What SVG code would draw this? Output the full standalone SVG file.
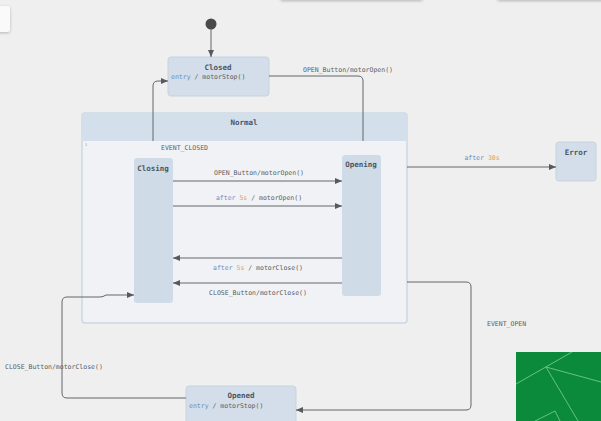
<svg xmlns="http://www.w3.org/2000/svg" width="601" height="421" viewBox="0 0 601 421">
<defs>
<marker id="ah" markerWidth="7" markerHeight="6" refX="7" refY="3" orient="auto" markerUnits="userSpaceOnUse">
<path d="M0,0 L7,3 L0,6 Z" fill="#555a60"/>
</marker>
<filter id="sh" x="-20%" y="-50%" width="140%" height="200%">
<feDropShadow dx="0" dy="1" stdDeviation="1.5" flood-color="#000" flood-opacity="0.25"/>
</filter>
</defs>
<style>
.state{fill:#d3deea;stroke:#c6d3e0;stroke-width:1}
.inner{fill:#cfdbe6;stroke:none}
.title{font-family:"DejaVu Sans Mono","Liberation Mono",monospace;font-size:7.5px;font-weight:bold;fill:#4a5562;text-anchor:middle}
.lbl{font-family:"DejaVu Sans Mono","Liberation Mono",monospace;font-size:6.5px;fill:#585d64}
.kw{fill:#6a8cc0}
.num{fill:#e0a060}
.edge{fill:none;stroke:#62676d;stroke-width:1}
</style>
<rect width="601" height="421" fill="#efefef"/>
<g id="ui">
<rect x="-6" y="6" width="16" height="26" rx="3" fill="#fafafa" filter="url(#sh)"/>
<rect x="280" y="-10" width="143" height="10" rx="3" fill="#f3f3f3" filter="url(#sh)"/>
<rect x="497" y="-10" width="110" height="10" rx="3" fill="#f3f3f3" filter="url(#sh)"/>
<rect x="516" y="352" width="90" height="75" fill="#0b8a3b"/>
<g stroke="#7fd08f" stroke-width="0.8" fill="none">
<path d="M516,384 L572,352"/>
<path d="M546,367 L601,382"/>
<path d="M546,367 L578,421"/>
<path d="M535,421 L555,411 L560,421"/>
</g>
</g>
<g id="Normal">
<rect x="82" y="113" width="325" height="210" rx="3" fill="#f1f2f5" stroke="#cdd7e2" stroke-width="1.5"/>
<path d="M82,141 V116 Q82,113 85,113 H404 Q407,113 407,116 V141 Z" fill="#d3dfeb"/>
<text class="title" x="244" y="125">Normal</text>
<text class="lbl" x="85" y="146" style="font-size:3.5px;fill:#8a9099">1</text>
</g>
<g id="Closing">
<rect class="inner" x="134" y="158" width="39" height="145" rx="3"/>
<text class="title" x="153" y="171">Closing</text>
</g>
<g id="Opening">
<rect class="inner" x="342" y="155" width="39" height="141" rx="3"/>
<text class="title" x="361" y="167">Opening</text>
</g>
<g id="Closed">
<rect class="state" x="168" y="57" width="101" height="39" rx="3"/>
<text class="title" x="218" y="70">Closed</text>
<text class="lbl" x="171" y="79"><tspan class="kw">entry</tspan> / motorStop()</text>
</g>
<g id="Error">
<rect class="state" x="556" y="142" width="40" height="39" rx="3"/>
<text class="title" x="576" y="155">Error</text>
</g>
<g id="Opened">
<rect class="state" x="186" y="386" width="110" height="45" rx="3"/>
<text class="title" x="241" y="398">Opened</text>
<text class="lbl" x="189" y="408"><tspan class="kw">entry</tspan> / motorStop()</text>
</g>
<g id="initial">
<circle cx="211" cy="24" r="5.5" fill="#4a4a4a"/>
</g>
<g id="connectors">
<path class="edge" d="M211,29 V57" marker-end="url(#ah)"/>
<path class="edge" d="M153,141 V86 Q153,81 158,81 H168" marker-end="url(#ah)"/>
<text class="lbl" x="161" y="150">EVENT_CLOSED</text>
<path class="edge" d="M269,76 H358 Q363,76 363,81 V141"/>
<text class="lbl" x="303" y="72">OPEN_Button/motorOpen()</text>
<path class="edge" d="M173,181 H342" marker-end="url(#ah)"/>
<text class="lbl" x="259" y="175" text-anchor="middle">OPEN_Button/motorOpen()</text>
<path class="edge" d="M173,206 H342" marker-end="url(#ah)"/>
<text class="lbl" x="259" y="200" text-anchor="middle"><tspan class="kw">after</tspan> <tspan class="num">5s</tspan> / motorOpen()</text>
<path class="edge" d="M342,258 H173" marker-end="url(#ah)"/>
<text class="lbl" x="258" y="270" text-anchor="middle"><tspan class="kw">after</tspan> <tspan class="num">5s</tspan> / motorClose()</text>
<path class="edge" d="M342,283 H173" marker-end="url(#ah)"/>
<text class="lbl" x="258" y="295" text-anchor="middle">CLOSE_Button/motorClose()</text>
<path class="edge" d="M407,167 H556" marker-end="url(#ah)"/>
<text class="lbl" x="482" y="160" text-anchor="middle"><tspan class="kw">after</tspan> <tspan class="num">30s</tspan></text>
<path class="edge" d="M407,282 H466 Q471,282 471,287 V405 Q471,410 466,410 H296" marker-end="url(#ah)"/>
<text class="lbl" x="487" y="326">EVENT_OPEN</text>
<path class="edge" d="M186,398 H67 Q62,398 62,393 V302 Q62,297 67,297 H100 Q103,297 106,295 H134" marker-end="url(#ah)"/>
<text class="lbl" x="5" y="369">CLOSE_Button/motorClose()</text>
</g>
</svg>
